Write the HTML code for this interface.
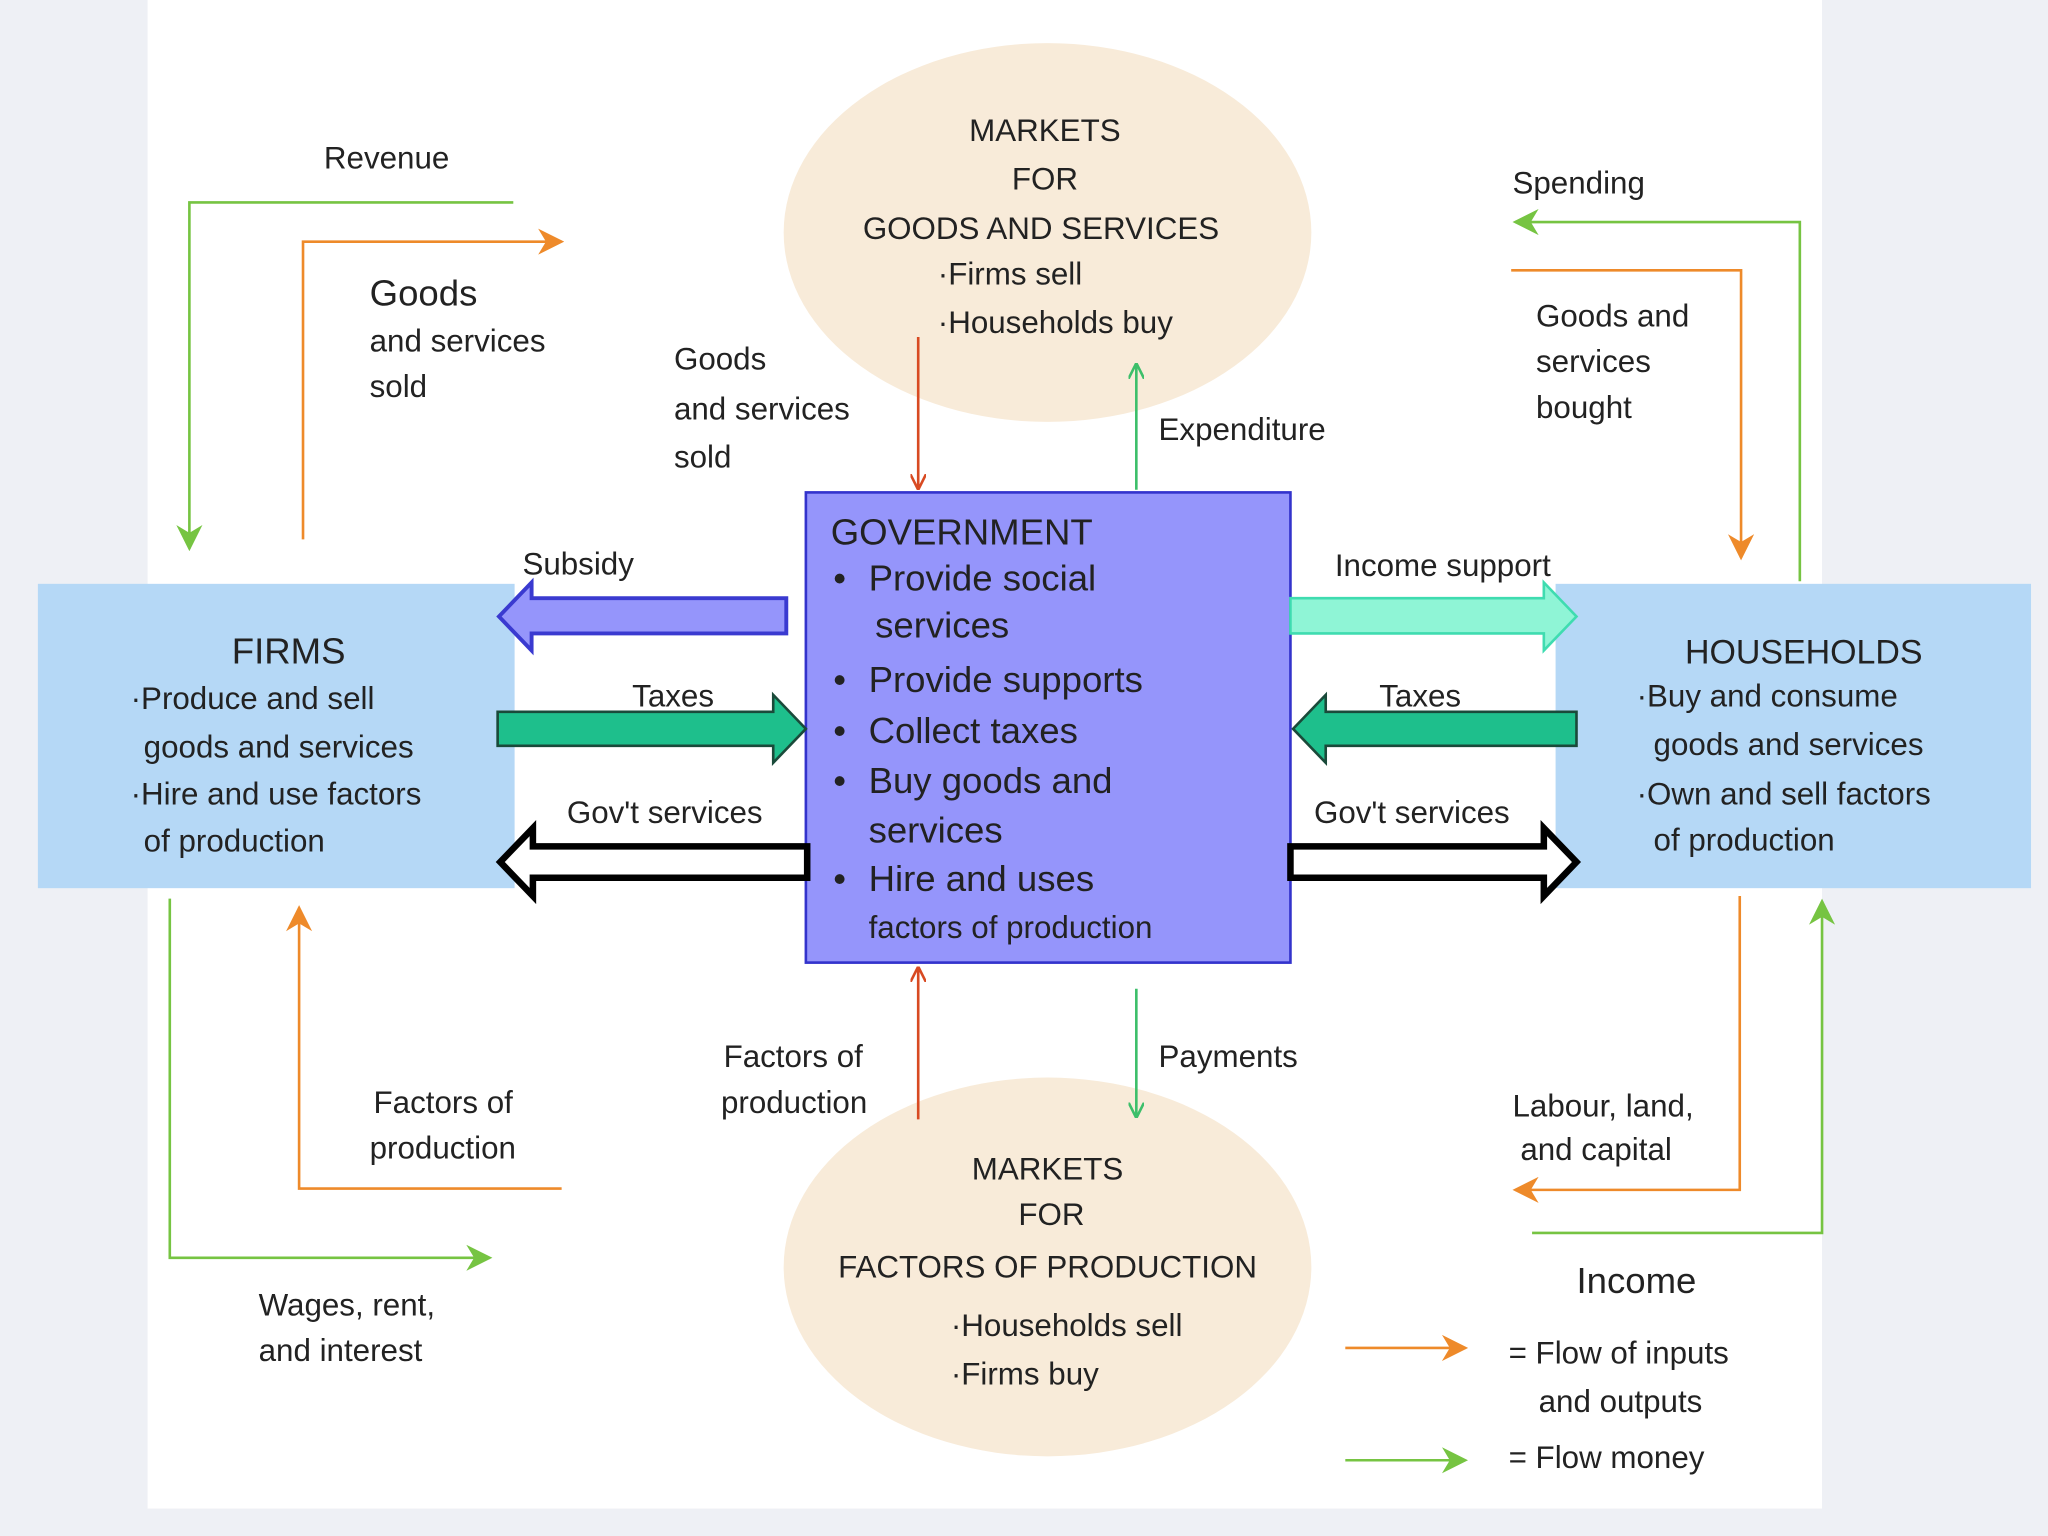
<!DOCTYPE html>
<html><head><meta charset="utf-8"><style>
html,body{margin:0;padding:0;background:#eef0f5}
svg{display:block}
text{font-family:"Liberation Sans",Arial,sans-serif;fill:#222}
</style></head><body>
<svg width="2048" height="1536" viewBox="0 0 1568 1176" xmlns="http://www.w3.org/2000/svg">
<defs>
<marker id="og" viewBox="0 0 20 20" refX="18" refY="10" markerWidth="20" markerHeight="20" markerUnits="userSpaceOnUse" orient="auto"><path d="M0,0 L20,10 L0,20 L6,10Z" fill="#ee8a2a"/></marker>
<marker id="gr" viewBox="0 0 20 20" refX="18" refY="10" markerWidth="20" markerHeight="20" markerUnits="userSpaceOnUse" orient="auto"><path d="M0,0 L20,10 L0,20 L6,10Z" fill="#76c442"/></marker>
<marker id="rd" viewBox="0 0 12 12" refX="11" refY="6" markerWidth="12" markerHeight="12" markerUnits="userSpaceOnUse" orient="auto"><path d="M0,0 L12,6 L0,12" fill="none" stroke="#d84a22" stroke-width="2"/></marker>
<marker id="gt" viewBox="0 0 12 12" refX="11" refY="6" markerWidth="12" markerHeight="12" markerUnits="userSpaceOnUse" orient="auto"><path d="M0,0 L12,6 L0,12" fill="none" stroke="#3cbf6a" stroke-width="2"/></marker>
</defs>
<rect x="0" y="0" width="1568" height="1176" fill="#eef0f5"/>
<rect x="113" y="0" width="1282" height="1155" fill="#ffffff"/>
<ellipse cx="802" cy="178" rx="202" ry="145" fill="#f8ebd9"/>
<ellipse cx="802" cy="970" rx="202" ry="145" fill="#f8ebd9"/>
<rect x="29" y="447" width="365" height="233" fill="#b5d8f6"/>
<rect x="1191" y="447" width="364" height="233" fill="#b5d8f6"/>
<rect x="617" y="377" width="371" height="360" fill="#9595fb" stroke="#3333cc" stroke-width="2"/>

<!-- block arrows -->
<path d="M602,458 L407,458 L407,446 L382,472 L407,498 L407,485 L602,485Z" fill="#9595fb" stroke="#3a3ad0" stroke-width="3"/>
<path d="M381,545 L592,545 L592,532 L617,558 L592,584 L592,571 L381,571Z" fill="#1ebf8c" stroke="#1a4a3a" stroke-width="2"/>
<path d="M618,648 L408,648 L408,634 L383,660 L408,686 L408,672 L618,672Z" fill="#fff" stroke="#000" stroke-width="5"/>
<path d="M988,458 L1182,458 L1182,446 L1207,472 L1182,498 L1182,485 L988,485Z" fill="#8ff5d6" stroke="#3fdcb0" stroke-width="2"/>
<path d="M1207,545 L1015,545 L1015,532 L990,558 L1015,584 L1015,571 L1207,571Z" fill="#1ebf8c" stroke="#1a4a3a" stroke-width="2"/>
<path d="M988,648 L1182,648 L1182,634 L1207,660 L1182,686 L1182,672 L988,672Z" fill="#fff" stroke="#000" stroke-width="5"/>

<!-- flow lines -->
<g fill="none" stroke-width="2">
<path d="M393,155 L145,155 L145,420" stroke="#76c442" marker-end="url(#gr)"/>
<path d="M232,413 L232,185 L430,185" stroke="#ee8a2a" marker-end="url(#og)"/>
<path d="M1378,445 L1378,170 L1160,170" stroke="#76c442" marker-end="url(#gr)"/>
<path d="M1157,207 L1333,207 L1333,427" stroke="#ee8a2a" marker-end="url(#og)"/>
<path d="M130,688 L130,963 L375,963" stroke="#76c442" marker-end="url(#gr)"/>
<path d="M430,910 L229,910 L229,695" stroke="#ee8a2a" marker-end="url(#og)"/>
<path d="M1332,686 L1332,911 L1160,911" stroke="#ee8a2a" marker-end="url(#og)"/>
<path d="M1173,944 L1395,944 L1395,690" stroke="#76c442" marker-end="url(#gr)"/>
<path d="M703,258 L703,374" stroke="#d84a22" marker-end="url(#rd)"/>
<path d="M870,375 L870,279" stroke="#3cbf6a" marker-end="url(#gt)"/>
<path d="M703,857 L703,741" stroke="#d84a22" marker-end="url(#rd)"/>
<path d="M870,757 L870,855" stroke="#3cbf6a" marker-end="url(#gt)"/>
<path d="M1030,1032 L1122,1032" stroke="#ee8a2a" marker-end="url(#og)"/>
<path d="M1030,1118 L1122,1118" stroke="#76c442" marker-end="url(#gr)"/>
</g>

<g font-size="24">
<text x="800" y="108" text-anchor="middle">MARKETS</text>
<text x="800" y="145" text-anchor="middle">FOR</text>
<text x="797" y="183" text-anchor="middle">GOODS  AND  SERVICES</text>
<text x="718" y="218">·Firms  sell</text>
<text x="718" y="255">·Households  buy</text>

<text x="802" y="903" text-anchor="middle">MARKETS</text>
<text x="805" y="938" text-anchor="middle">FOR</text>
<text x="802" y="978" text-anchor="middle">FACTORS  OF  PRODUCTION</text>
<text x="728" y="1023">·Households  sell</text>
<text x="728" y="1060">·Firms buy</text>

<text x="248" y="129">Revenue</text>
<text x="283" y="234" font-size="28">Goods</text>
<text x="283" y="269">and services</text>
<text x="283" y="304">sold</text>
<text x="516" y="283">Goods</text>
<text x="516" y="321">and services</text>
<text x="516" y="358">sold</text>
<text x="887" y="337">Expenditure</text>
<text x="1158" y="148">Spending</text>
<text x="1176" y="250">Goods  and</text>
<text x="1176" y="285">services</text>
<text x="1176" y="320">bought</text>

<text x="400" y="440">Subsidy</text>
<text x="484" y="541">Taxes</text>
<text x="434" y="630">Gov't services</text>
<text x="1022" y="441" font-family="Liberation Serif,serif">Income  support</text>
<text x="1056" y="541">Taxes</text>
<text x="1006" y="630">Gov't services</text>

<text x="221" y="508" font-size="28" text-anchor="middle">FIRMS</text>
<text x="100" y="543">·Produce  and  sell</text>
<text x="110" y="580">goods    and    services</text>
<text x="100" y="616">·Hire and use factors</text>
<text x="110" y="652">of  production</text>

<text x="1381" y="508" font-size="26" text-anchor="middle">HOUSEHOLDS</text>
<text x="1253" y="541">·Buy  and  consume</text>
<text x="1266" y="578">goods  and services</text>
<text x="1253" y="616">·Own  and  sell factors</text>
<text x="1266" y="651">of production</text>

<text x="554" y="817">Factors of</text>
<text x="552" y="852">production</text>
<text x="887" y="817">Payments</text>
<text x="286" y="852">Factors of</text>
<text x="283" y="887">production</text>
<text x="198" y="1007">Wages,  rent,</text>
<text x="198" y="1042">and  interest</text>
<text x="1158" y="855">Labour,  land,</text>
<text x="1164" y="888">and  capital</text>
<text x="1207" y="990" font-size="28">Income</text>
<text x="1155" y="1044">= Flow of inputs</text>
<text x="1178" y="1081">and outputs</text>
<text x="1155" y="1124">=  Flow  money</text>
</g>

<g font-size="28" fill="#111">
<text x="636" y="417">GOVERNMENT</text>
<text x="638" y="452">•</text><text x="665" y="452">Provide social</text>
<text x="670" y="488">services</text>
<text x="638" y="530">•</text><text x="665" y="530">Provide supports</text>
<text x="638" y="569">•</text><text x="665" y="569">Collect taxes</text>
<text x="638" y="607">•</text><text x="665" y="607">Buy goods and</text>
<text x="665" y="645">services</text>
<text x="638" y="682">•</text><text x="665" y="682">Hire and uses</text>
<text x="665" y="718" font-size="24">factors  of  production</text>
</g>
</svg>
</body></html>
